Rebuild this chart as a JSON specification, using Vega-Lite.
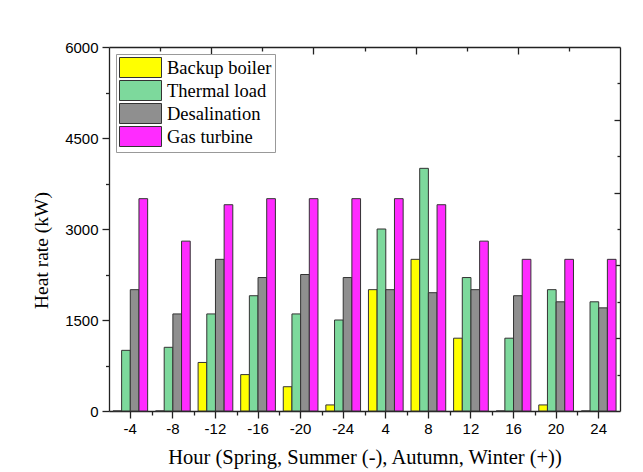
{
  "$schema": "https://vega.github.io/schema/vega-lite/v6.json",
  "width": 511,
  "height": 364,
  "autosize": "none",
  "padding": {"left": 109, "top": 47, "right": 23, "bottom": 61},
  "background": "white",
  "config": {
    "view": {"stroke": null},
    "axis": {
      "labelFont": "Liberation Sans",
      "labelFontSize": 15,
      "labelColor": "#000",
      "titleFont": "Liberation Serif",
      "titleFontWeight": "normal",
      "titleColor": "#000",
      "domainColor": "#222",
      "domainWidth": 1.3,
      "tickColor": "#222",
      "tickWidth": 1.3,
      "grid": false
    },
    "legend": {
      "labelFont": "Liberation Serif",
      "labelFontSize": 18.5,
      "labelColor": "#000"
    }
  },
  "datasets": {
    "heat": [
      {"hour": "-4", "series": "Backup boiler", "value": 0},
      {"hour": "-4", "series": "Thermal load", "value": 1000},
      {"hour": "-4", "series": "Desalination", "value": 2000},
      {"hour": "-4", "series": "Gas turbine", "value": 3500},
      {"hour": "-8", "series": "Backup boiler", "value": 0},
      {"hour": "-8", "series": "Thermal load", "value": 1050},
      {"hour": "-8", "series": "Desalination", "value": 1600},
      {"hour": "-8", "series": "Gas turbine", "value": 2800},
      {"hour": "-12", "series": "Backup boiler", "value": 800},
      {"hour": "-12", "series": "Thermal load", "value": 1600},
      {"hour": "-12", "series": "Desalination", "value": 2500},
      {"hour": "-12", "series": "Gas turbine", "value": 3400},
      {"hour": "-16", "series": "Backup boiler", "value": 600},
      {"hour": "-16", "series": "Thermal load", "value": 1900},
      {"hour": "-16", "series": "Desalination", "value": 2200},
      {"hour": "-16", "series": "Gas turbine", "value": 3500},
      {"hour": "-20", "series": "Backup boiler", "value": 400},
      {"hour": "-20", "series": "Thermal load", "value": 1600},
      {"hour": "-20", "series": "Desalination", "value": 2250},
      {"hour": "-20", "series": "Gas turbine", "value": 3500},
      {"hour": "-24", "series": "Backup boiler", "value": 100},
      {"hour": "-24", "series": "Thermal load", "value": 1500},
      {"hour": "-24", "series": "Desalination", "value": 2200},
      {"hour": "-24", "series": "Gas turbine", "value": 3500},
      {"hour": "4", "series": "Backup boiler", "value": 2000},
      {"hour": "4", "series": "Thermal load", "value": 3000},
      {"hour": "4", "series": "Desalination", "value": 2000},
      {"hour": "4", "series": "Gas turbine", "value": 3500},
      {"hour": "8", "series": "Backup boiler", "value": 2500},
      {"hour": "8", "series": "Thermal load", "value": 4000},
      {"hour": "8", "series": "Desalination", "value": 1950},
      {"hour": "8", "series": "Gas turbine", "value": 3400},
      {"hour": "12", "series": "Backup boiler", "value": 1200},
      {"hour": "12", "series": "Thermal load", "value": 2200},
      {"hour": "12", "series": "Desalination", "value": 2000},
      {"hour": "12", "series": "Gas turbine", "value": 2800},
      {"hour": "16", "series": "Backup boiler", "value": 0},
      {"hour": "16", "series": "Thermal load", "value": 1200},
      {"hour": "16", "series": "Desalination", "value": 1900},
      {"hour": "16", "series": "Gas turbine", "value": 2500},
      {"hour": "20", "series": "Backup boiler", "value": 100},
      {"hour": "20", "series": "Thermal load", "value": 2000},
      {"hour": "20", "series": "Desalination", "value": 1800},
      {"hour": "20", "series": "Gas turbine", "value": 2500},
      {"hour": "24", "series": "Backup boiler", "value": 0},
      {"hour": "24", "series": "Thermal load", "value": 1800},
      {"hour": "24", "series": "Desalination", "value": 1700},
      {"hour": "24", "series": "Gas turbine", "value": 2500}
    ],
    "frame": [{"k": 0}]
  },
  "layer": [
    {
      "data": {"name": "heat"},
      "mark": {"type": "bar", "stroke": "#333", "strokeWidth": 1},
      "encoding": {
        "x": {
          "field": "hour",
          "type": "nominal",
          "sort": ["-4", "-8", "-12", "-16", "-20", "-24", "4", "8", "12", "16", "20", "24"],
          "scale": {"paddingInner": 0.185, "paddingOuter": 0.0925},
          "axis": {
            "orient": "bottom",
            "title": "Hour (Spring, Summer (-), Autumn, Winter (+))",
            "titleFontSize": 20.5,
            "titlePadding": 11,
            "labelAngle": 0,
            "labelPadding": 3,
            "tickSize": 7
          }
        },
        "xOffset": {
          "field": "series",
          "type": "nominal",
          "sort": ["Backup boiler", "Thermal load", "Desalination", "Gas turbine"],
          "scale": {"paddingInner": 0, "paddingOuter": 0}
        },
        "y": {
          "field": "value",
          "type": "quantitative",
          "scale": {"domain": [0, 6000], "nice": false},
          "axis": {
            "orient": "left",
            "title": "Heat rate (kW)",
            "titleFontSize": 19.5,
            "titlePadding": 13,
            "titleY": 203,
            "values": [0, 750, 1500, 2250, 3000, 3750, 4500, 5250, 6000],
            "format": "d",
            "labelExpr": "datum.value % 1500 === 0 ? datum.label : ''",
            "labelPadding": 4,
            "tickSize": {"condition": {"test": "datum.value % 1500 === 0", "value": 7}, "value": 3.5}
          }
        },
        "color": {
          "field": "series",
          "type": "nominal",
          "scale": {
            "domain": ["Backup boiler", "Thermal load", "Desalination", "Gas turbine"],
            "range": ["#FFFF00", "#7DD99C", "#8F8F8F", "#FF2BFF"]
          },
          "legend": {
            "title": null,
            "orient": "none",
            "legendX": 7,
            "legendY": 7,
            "padding": 3,
            "strokeColor": "#999",
            "fillColor": "white",
            "symbolType": "M-2.1,-1H2.1V1H-2.1Z",
            "symbolSize": 400,
            "symbolStrokeColor": "#333",
            "symbolStrokeWidth": 1,
            "symbolOpacity": 1,
            "symbolOffset": 11,
            "labelOffset": 16,
            "rowPadding": -2
          }
        }
      }
    },
    {
      "data": {"name": "frame"},
      "mark": {"type": "point", "opacity": 0},
      "encoding": {
        "x": {
          "datum": 0,
          "type": "quantitative",
          "scale": {"domain": [0, 12], "nice": false},
          "axis": {
            "orient": "bottom",
            "values": [1, 2, 3, 4, 5, 6, 7, 8, 9, 10, 11],
            "labels": false,
            "domain": false,
            "title": null,
            "tickSize": 4
          }
        }
      }
    },
    {
      "data": {"name": "frame"},
      "mark": {"type": "point", "opacity": 0},
      "encoding": {
        "x": {
          "datum": 0,
          "type": "quantitative",
          "scale": {"domain": [0, 10], "nice": false},
          "axis": {
            "orient": "top",
            "values": [1, 2, 3, 4, 5, 6, 7, 8, 9],
            "labels": false,
            "title": null,
            "tickSize": {"condition": {"test": "datum.value % 2 === 0", "value": -7}, "value": -4}
          }
        },
        "y": {
          "datum": 0,
          "type": "quantitative",
          "scale": {"domain": [0, 6000], "nice": false},
          "axis": {
            "orient": "right",
            "values": [600, 1200, 1800, 2400, 3000, 3600, 4200, 4800, 5400],
            "labels": false,
            "title": null,
            "tickSize": {"condition": {"test": "datum.value % 1200 === 0", "value": -6}, "value": -3}
          }
        }
      }
    }
  ],
  "resolve": {
    "scale": {"x": "independent", "y": "independent"},
    "axis": {"x": "independent", "y": "independent"}
  }
}
